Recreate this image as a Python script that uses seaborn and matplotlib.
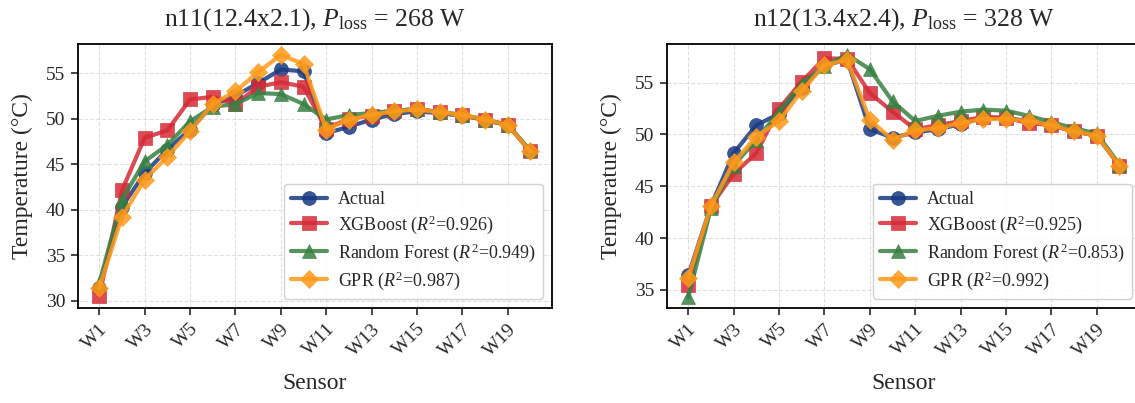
import numpy as np
import pandas as pd
import matplotlib
matplotlib.use("Agg")
import matplotlib.pyplot as plt
import seaborn as sns

sensors = [f"W{i}" for i in range(1, 21)]

# Panel 1: n11
n11_actual = [31.4, 40.3, 44.0, 46.6, 48.8, 51.5, 52.5, 53.9, 55.4, 55.2,
              48.4, 49.1, 49.9, 50.5, 50.8, 50.6, 50.3, 49.9, 49.3, 46.4]
n11_xgb = [30.5, 42.1, 47.9, 48.7, 52.1, 52.4, 51.6, 53.5, 54.0, 53.5,
           48.9, 50.0, 50.3, 50.8, 51.1, 50.7, 50.4, 49.8, 49.3, 46.4]
n11_rf = [31.9, 41.1, 45.3, 47.1, 49.7, 51.3, 51.6, 52.8, 52.7, 51.6,
          49.9, 50.4, 50.6, 50.9, 51.0, 50.7, 50.4, 49.9, 49.3, 46.5]
n11_gpr = [31.4, 39.2, 43.3, 45.8, 48.6, 51.6, 53.0, 55.1, 57.0, 56.0,
           48.8, 49.9, 50.4, 50.8, 51.0, 50.7, 50.4, 49.9, 49.3, 46.4]

# Panel 2: n12
n12_actual = [36.4, 43.1, 48.2, 50.9, 52.0, 54.5, 56.7, 57.2, 50.5, 49.7,
              50.2, 50.5, 51.0, 51.6, 51.6, 51.3, 50.9, 50.3, 49.9, 47.0]
n12_xgb = [35.5, 43.1, 46.2, 48.2, 52.5, 55.1, 57.35, 57.3, 54.0, 52.2,
           50.5, 50.9, 51.3, 51.7, 51.6, 51.1, 50.9, 50.3, 49.9, 47.0]
n12_rf = [34.3, 42.9, 47.0, 49.5, 52.2, 54.9, 56.6, 57.7, 56.3, 53.2,
          51.3, 51.8, 52.2, 52.4, 52.3, 51.8, 51.2, 50.6, 50.1, 47.1]
n12_gpr = [36.2, 43.1, 47.3, 49.8, 51.3, 54.2, 56.7, 57.2, 51.4, 49.5,
           50.4, 50.6, 51.1, 51.5, 51.5, 51.3, 50.9, 50.3, 49.9, 47.0]

titles = ["n11(12.4x2.1), $\\it{P}_{\\rm loss}$ = 268 W",
          "n12(13.4x2.4), $\\it{P}_{\\rm loss}$ = 328 W"]
r2_n11 = {"XGBoost": "0.926", "Random Forest": "0.949", "GPR": "0.987"}
r2_n12 = {"XGBoost": "0.925", "Random Forest": "0.853", "GPR": "0.992"}

sns.set_theme(style="ticks")
plt.rcParams["font.family"] = ["Liberation Serif", "DejaVu Serif"]
plt.rcParams["mathtext.fontset"] = "custom"
plt.rcParams["mathtext.rm"] = "Liberation Serif"
plt.rcParams["mathtext.it"] = "Liberation Serif:italic"
plt.rcParams["mathtext.bf"] = "Liberation Serif:bold"

colors = {"Actual": "#173a82", "XGBoost": "#d62a36", "Random Forest": "#388043", "GPR": "#ff9a1a"}
markers = {"Actual": "o", "XGBoost": "s", "Random Forest": "^", "GPR": "D"}
msizes = {"Actual": 10, "XGBoost": 10, "Random Forest": 10, "GPR": 9}

fig = plt.figure(figsize=(11.35, 4.03), dpi=100)
W, H = 1135, 403
ax1 = fig.add_axes([77.7 / W, (H - 308) / H, 474.3 / W, 264 / H])
ax2 = fig.add_axes([666.7 / W, (H - 308) / H, 474.3 / W, 264 / H])

panels = [
    (ax1, [n11_actual, n11_xgb, n11_rf, n11_gpr], r2_n11, (29.18, 58.2), [30, 35, 40, 45, 50, 55]),
    (ax2, [n12_actual, n12_xgb, n12_rf, n12_gpr], r2_n12, (33.26, 58.73), [35, 40, 45, 50, 55]),
]
names = ["Actual", "XGBoost", "Random Forest", "GPR"]

for i, (ax, series, r2, ylim, yt) in enumerate(panels):
    x = np.arange(len(sensors))
    for name, vals in zip(names, series):
        label = name if name == "Actual" else f"{name} ($R^2$={r2[name]})"
        sns.lineplot(x=x, y=vals, ax=ax, color=colors[name], marker=markers[name],
                     markersize=msizes[name], linewidth=3, alpha=0.85,
                     markeredgewidth=0.5, markeredgecolor=colors[name], label=label)
    ax.set_xlim(-0.95, 19.95)
    ax.set_ylim(*ylim)
    ax.set_yticks(yt)
    ax.set_xticks(x[::2])
    ax.set_xticklabels(sensors[::2], rotation=45, ha="right", rotation_mode="anchor")
    ax.tick_params(axis="both", labelsize=14, length=5, width=1.2, direction="out", pad=4)
    ax.grid(True, linestyle="--", color="#cccccc", alpha=0.6, linewidth=0.8)
    for sp in ax.spines.values():
        sp.set_visible(True)
        sp.set_color("black")
        sp.set_linewidth(1.3)
    ax.set_xlabel("Sensor", fontsize=17, labelpad=10)
    ax.set_ylabel("Temperature (°C)", fontsize=17, labelpad=9)
    ax.set_title(titles[i], fontsize=18.5, pad=13)
    leg = ax.legend(loc="lower right", fontsize=13, frameon=True, fancybox=True,
                    framealpha=0.9, edgecolor="#cccccc", handlelength=2.0,
                    handletextpad=0.6, borderpad=0.4, labelspacing=0.3)

fig.savefig("out.png", dpi=100)
